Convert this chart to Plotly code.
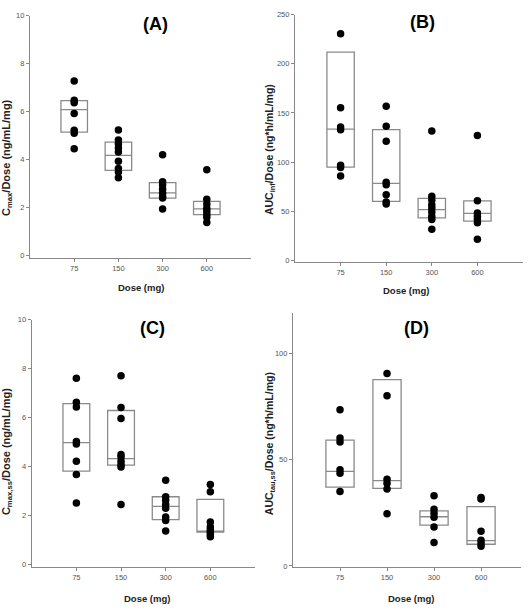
import plotly.graph_objects as go

doses = ["75", "150", "300", "600"]
pos = [1, 2, 3, 4]

# Panel A: Cmax/Dose
a_pts = [
    [7.28, 6.47, 6.37, 5.92, 5.22, 5.10, 4.45],
    [5.23, 4.82, 4.66, 4.49, 4.32, 3.93, 3.63, 3.49, 3.25],
    [4.20, 3.08, 2.95, 2.77, 2.60, 2.47, 2.40, 1.95],
    [3.58, 2.35, 2.15, 1.98, 1.85, 1.72, 1.60, 1.38],
]
a_q1 = [5.15, 3.55, 2.40, 1.71]
a_med = [6.08, 4.18, 2.62, 1.95]
a_q3 = [6.46, 4.73, 3.04, 2.26]

# Panel B: AUCinf/Dose
b_pts = [
    [230.6, 155.4, 135.7, 133.0, 96.9, 94.6, 85.9],
    [156.8, 136.4, 121.3, 79.5, 77.2, 66.8, 59.5, 57.5],
    [131.7, 65.5, 61.5, 56.8, 53.5, 49.5, 45.0, 41.8, 31.8],
    [127.0, 60.8, 48.5, 45.0, 41.8, 38.4, 21.7],
]
b_q1 = [94.9, 60.2, 43.4, 40.1]
b_med = [133.7, 78.5, 51.8, 48.1]
b_q3 = [211.9, 133.0, 63.2, 60.8]

# Panel C: Cmax,ss/Dose
c_pts = [
    [7.62, 6.64, 6.44, 5.03, 4.93, 4.23, 3.69, 2.52],
    [7.72, 6.42, 5.97, 4.50, 4.40, 4.23, 4.09, 3.99, 2.46],
    [3.45, 2.78, 2.64, 2.46, 2.31, 1.95, 1.81, 1.38],
    [3.28, 2.98, 1.75, 1.55, 1.42, 1.35, 1.25, 1.15],
]
c_q1 = [3.83, 4.07, 1.85, 1.34]
c_med = [4.99, 4.34, 2.39, 1.38]
c_q3 = [6.58, 6.30, 2.78, 2.67]

# Panel D: AUCtau,ss/Dose
d_pts = [
    [73.4, 60.1, 58.2, 45.2, 43.5, 35.0],
    [90.4, 79.9, 40.7, 38.9, 36.1, 24.5],
    [33.0, 26.6, 24.8, 22.9, 18.3, 11.0],
    [32.2, 31.4, 16.3, 12.1, 10.5, 9.3],
]
d_q1 = [37.0, 36.4, 19.2, 10.2]
d_med = [44.4, 40.1, 23.1, 11.9]
d_q3 = [59.1, 87.5, 25.9, 27.9]

W, H = 528, 615
FONT = "Liberation Sans, Arial, sans-serif"

panels = [
    dict(pts=a_pts, q1=a_q1, med=a_med, q3=a_q3, xa="x", ya="y",
         xdom=(30, 251), ydom=(11.7, 257), yr=[-0.08, 10], dtick=2, xr=[0, 5]),
    dict(pts=b_pts, q1=b_q1, med=b_med, q3=b_q3, xa="x2", ya="y2",
         xdom=(295, 523), ydom=(10.7, 261), yr=[-1, 250], dtick=50, xr=[0, 5]),
    dict(pts=c_pts, q1=c_q1, med=c_med, q3=c_q3, xa="x3", ya="y3",
         xdom=(31.7, 255), ydom=(320, 570), yr=[-0.07, 10], dtick=2, xr=[0, 5]),
    dict(pts=d_pts, q1=d_q1, med=d_med, q3=d_q3, xa="x4", ya="y4",
         xdom=(293, 521), ydom=(312.7, 570), yr=[-0.3, 119], dtick=50, xr=[0, 4.85]),
]

fig = go.Figure()
layout = dict(
    width=W, height=H, margin=dict(l=0, r=0, t=0, b=0),
    paper_bgcolor="white", plot_bgcolor="white", showlegend=False,
    font=dict(family=FONT, color="#333"),
)

for i, p in enumerate(panels):
    fig.add_trace(go.Box(
        x=pos, q1=p["q1"], median=p["med"], q3=p["q3"],
        lowerfence=p["q1"], upperfence=p["q3"],
        width=0.6, whiskerwidth=0, boxpoints=False,
        line=dict(color="#8a8a8a", width=1.3), fillcolor="rgba(255,255,255,0)",
        xaxis=p["xa"], yaxis=p["ya"], hoverinfo="skip",
    ))
    xs, ys = [], []
    for k, vals in enumerate(p["pts"]):
        xs += [pos[k]] * len(vals)
        ys += vals
    fig.add_trace(go.Scatter(
        x=xs, y=ys, mode="markers",
        marker=dict(color="black", size=7.5),
        xaxis=p["xa"], yaxis=p["ya"],
    ))
    suffix = "" if i == 0 else str(i + 1)
    x0, x1 = p["xdom"]
    y0, y1 = p["ydom"]
    layout["xaxis" + suffix] = dict(
        domain=[x0 / W, x1 / W], range=p["xr"], anchor=p["ya"],
        tickvals=pos, ticktext=doses, showgrid=False, zeroline=False,
        showline=True, linecolor="#888", linewidth=1.2,
        ticks="outside", ticklen=3, tickcolor="#888",
        tickfont=dict(size=7.5, color="#555", family=FONT),
    )
    layout["yaxis" + suffix] = dict(
        domain=[1 - y1 / H, 1 - y0 / H], range=p["yr"], anchor=p["xa"],
        dtick=p["dtick"], tick0=0, showgrid=False, zeroline=False,
        showline=True, linecolor="#888", linewidth=1.2,
        ticks="outside", ticklen=3, tickcolor="#888",
        tickfont=dict(size=7.5, color="#555", family=FONT),
    )

fig.update_layout(**layout)

ann = []
titles = [("(A)", 155, 20), ("(B)", 422, 18), ("(C)", 152, 328), ("(D)", 416, 328)]
for t, x, y in titles:
    ann.append(dict(text="<b>" + t + "</b>", x=x / W, y=1 - y / H, xref="paper", yref="paper",
                    showarrow=False, xanchor="center", yanchor="middle",
                    font=dict(size=18, color="black", family=FONT)))
xtitles = [(141, 287), (406, 290), (147, 602), (411, 602)]
for x, y in xtitles:
    ann.append(dict(text="<b>Dose (mg)</b>", x=x / W, y=1 - y / H, xref="paper", yref="paper",
                    showarrow=False, xanchor="center", yanchor="middle",
                    font=dict(size=9.5, color="#222", family=FONT)))
ytitles = [
    ("<b>C<sub>max</sub>/Dose (ng/mL/mg)</b>", 7, 156, 11),
    ("<b>AUC<sub>inf</sub>/Dose (ng*h/mL/mg)</b>", 270, 148, 10.5),
    ("<b>C<sub>max,ss</sub>/Dose (ng/mL/mg)</b>", 7, 454, 11),
    ("<b>AUC<sub>tau,ss</sub>/Dose (ng*h/mL/mg)</b>", 270, 446, 10.5),
]
for t, x, y, s in ytitles:
    ann.append(dict(text=t, x=x / W, y=1 - y / H, xref="paper", yref="paper",
                    showarrow=False, xanchor="center", yanchor="middle", textangle=-90,
                    font=dict(size=s, color="#222", family=FONT)))
fig.update_layout(annotations=ann)

fig.write_html("out.html")
